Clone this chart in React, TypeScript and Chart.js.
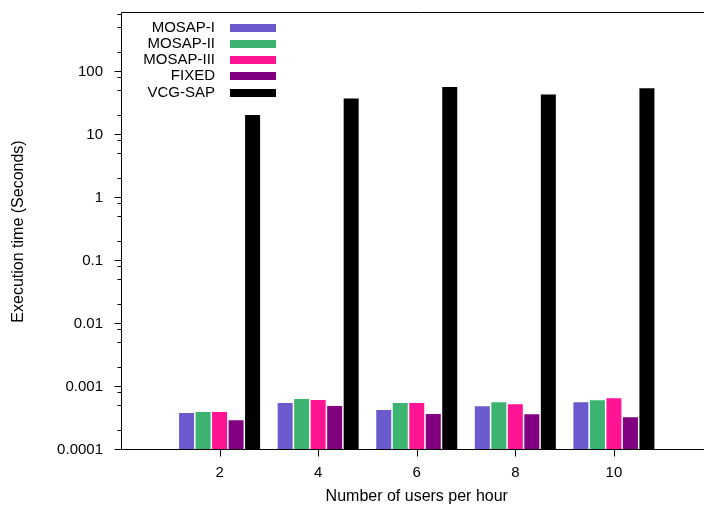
import { useEffect, useRef } from "react";
import { Chart, registerables } from "chart.js";

Chart.register(...registerables);

// ---- data ----
const categories = ["2", "4", "6", "8", "10"];
const seriesNames = ["MOSAP-I", "MOSAP-II", "MOSAP-III", "FIXED", "VCG-SAP"];
const mosapI = [3.87e-4, 5.58e-4, 4.32e-4, 4.94e-4, 5.73e-4];
const mosapII = [4.02e-4, 6.46e-4, 5.58e-4, 5.73e-4, 6.16e-4];
const mosapIII = [4.02e-4, 6.23e-4, 5.58e-4, 5.32e-4, 6.63e-4];
const fixed = [2.96e-4, 5.0e-4, 3.73e-4, 3.69e-4, 3.31e-4];
const vcgSap = [21, 38.5, 58.2, 44.3, 56];
const yTickValues = [0.0001, 0.001, 0.01, 0.1, 1, 10, 100];
const yTickLabels = ["0.0001", "0.001", "0.01", "0.1", "1", "10", "100"];
const yMinorMultipliers = [2, 5, 8];
const colors = ["#6A5ACD", "#3CB371", "#FF1493", "#800080", "#000000"];

const FONT = "'Liberation Sans', Arial, Helvetica, sans-serif";

const framePlugin = {
  id: "frame",
  afterDraw(chart: any) {
    const { ctx, chartArea: a, scales } = chart;
    const y = scales.y;
    const x = scales.x;
    const L = Math.round(a.left) + 0.5;
    const B = Math.round(a.bottom) - 0.5;
    const T = Math.round(a.top) - 0.5;
    ctx.save();
    ctx.strokeStyle = "#000";
    ctx.lineWidth = 1;
    ctx.beginPath();
    // frame: left, bottom, top
    ctx.moveTo(L, T);
    ctx.lineTo(L, B);
    ctx.moveTo(L - 6, B);
    ctx.lineTo(chart.width, B);
    ctx.moveTo(L, T);
    ctx.lineTo(chart.width, T);
    // y major ticks
    yTickValues.forEach((v) => {
      const py = Math.round(y.getPixelForValue(v)) - 0.5;
      ctx.moveTo(L - 7, py);
      ctx.lineTo(L, py);
      yMinorMultipliers.forEach((m) => {
        const mv = v * m;
        if (mv <= y.max) {
          const my = Math.round(y.getPixelForValue(mv)) - 0.5;
          ctx.moveTo(L - 4, my);
          ctx.lineTo(L, my);
        }
      });
    });
    // x ticks
    categories.forEach((c) => {
      const px = Math.round(x.getPixelForValue(x.getLabels().indexOf(c))) + 0.5;
      ctx.moveTo(px, B);
      ctx.lineTo(px, B + 7);
    });
    ctx.stroke();

    // legend
    ctx.font = `15px ${FONT}`;
    ctx.textAlign = "right";
    ctx.textBaseline = "middle";
    chart.data.datasets.forEach((ds: any, i: number) => {
      const cy = a.top + 14.5 + i * 16.25;
      ctx.fillStyle = "#000";
      ctx.fillText(ds.label, a.left + 94, cy);
      ctx.fillStyle = ds.backgroundColor;
      ctx.fillRect(a.left + 109, Math.round(cy - 4), 46, 8);
    });
    ctx.restore();
  },
};

export default function App() {
  const ref = useRef<HTMLCanvasElement>(null);
  useEffect(() => {
    if (!ref.current) return;
    const labels = ["", ...categories, ""];
    const series = [mosapI, mosapII, mosapIII, fixed, vcgSap];
    const chart = new Chart(ref.current, {
      type: "bar",
      data: {
        labels,
        datasets: series.map((s, i) => ({
          label: seriesNames[i],
          data: [null, ...s, null],
          backgroundColor: colors[i],
          borderWidth: 0,
          categoryPercentage: 0.837,
          barPercentage: 0.909,
        })),
      },
      options: {
        responsive: false,
        animation: false,
        devicePixelRatio: 1,
        layout: { padding: { left: 0, top: 13, right: 7.5, bottom: 0 } },
        plugins: { legend: { display: false }, tooltip: { enabled: false } },
        scales: {
          x: {
            type: "category",
            offset: false,
            grid: { display: false, drawTicks: false },
            border: { display: false },
            ticks: {
              padding: 14,
              color: "#000",
              font: { family: FONT, size: 15 },
              autoSkip: false,
              maxRotation: 0,
            },
            title: {
              display: true,
              text: "Number of users per hour",
              color: "#000",
              font: { family: FONT, size: 16 },
              padding: { top: 0, bottom: 0 },
            },
            afterFit(scale: any) {
              scale.height = 56;
              scale.paddingLeft = 0;
              scale.paddingRight = 0;
            },
          },
          y: {
            type: "logarithmic",
            min: 0.0001,
            max: 875,
            grid: { display: false, drawTicks: false },
            border: { display: false },
            afterBuildTicks(scale: any) {
              scale.ticks = yTickValues.map((v) => ({ value: v }));
            },
            ticks: {
              padding: 18,
              color: "#000",
              font: { family: FONT, size: 15 },
              callback: (v: any) => {
                const i = yTickValues.indexOf(Number(v));
                return i >= 0 ? yTickLabels[i] : "";
              },
            },
            title: {
              display: true,
              text: "Execution time (Seconds)",
              color: "#000",
              font: { family: FONT, size: 16 },
              padding: { top: 9, bottom: 0 },
            },
            afterFit(scale: any) {
              scale.width = 121;
              scale.paddingTop = 0;
              scale.paddingBottom = 0;
            },
          },
        },
      },
      plugins: [framePlugin],
    });
    return () => chart.destroy();
  }, []);
  return (
    <div style={{ position: "fixed", left: 0, top: 0, width: 704, height: 506, overflow: "hidden", background: "#fff" }}>
      <canvas ref={ref} width={720} height={506} style={{ display: "block" }} />
    </div>
  );
}
